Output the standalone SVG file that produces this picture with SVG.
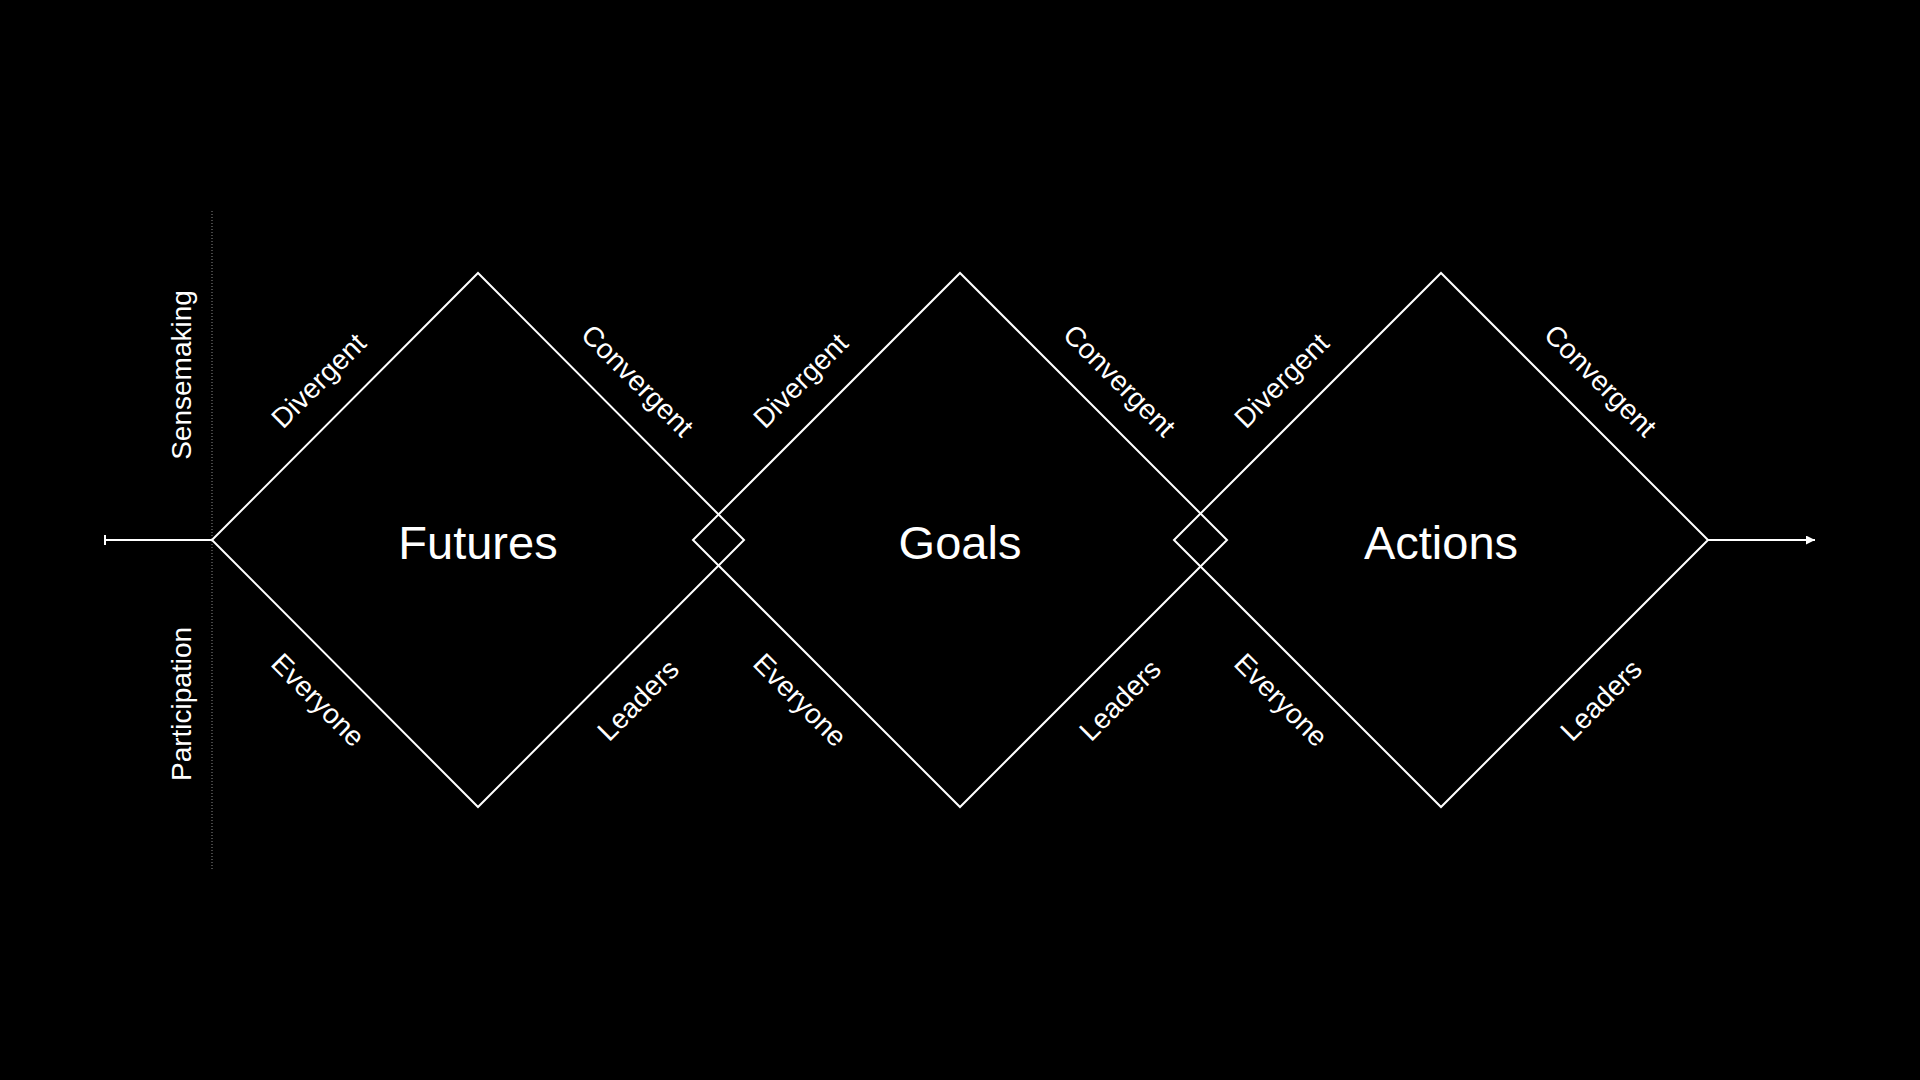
<svg xmlns="http://www.w3.org/2000/svg" width="1920" height="1080" viewBox="0 0 1920 1080">
<defs>
<style>
.bg{fill:#000}
.shape{fill:none;stroke:#fff;stroke-width:2;stroke-linejoin:miter}
.line{fill:none;stroke:#fff;stroke-width:2}
.axis{fill:none;stroke:#8a8a8a;stroke-width:1;stroke-dasharray:1 2}
.title{font-family:"Liberation Sans",Arial,Helvetica,sans-serif;font-size:47px;fill:#fff;text-anchor:middle}
.lbl{font-family:"Liberation Sans",Arial,Helvetica,sans-serif;font-size:28px;fill:#fff;text-anchor:middle}
</style>
<marker id="arrow" viewBox="0 0 10 10" refX="10" refY="5" markerWidth="10" markerHeight="9" markerUnits="userSpaceOnUse" orient="auto">
<path d="M0,0 L10,5 L0,10 Z" fill="#fff"/>
</marker>
</defs>
<rect class="bg" x="0" y="0" width="1920" height="1080"/>

<g id="axis">
<line class="axis" x1="212" y1="211" x2="212" y2="869"/>
<text class="lbl" transform="translate(191,375) rotate(-90)">Sensemaking</text>
<text class="lbl" transform="translate(191,704) rotate(-90)">Participation</text>
</g>

<g id="connectors">
<line class="line" x1="105" y1="540" x2="212" y2="540"/>
<line class="line" x1="105" y1="535" x2="105" y2="545"/>
<line class="line" x1="1708" y1="540" x2="1815" y2="540" marker-end="url(#arrow)"/>
</g>

<g id="futures">
<polygon class="shape" points="212,540 478,273 744,540 478,807"/>
<text class="title" x="478" y="559">Futures</text>
<text class="lbl" transform="translate(318.3,380.3) rotate(-45)" y="10">Divergent</text>
<text class="lbl" transform="translate(637.7,380.3) rotate(45)" y="10">Convergent</text>
<text class="lbl" transform="translate(318.3,699.7) rotate(45)" y="10">Everyone</text>
<text class="lbl" transform="translate(637.7,699.7) rotate(-45)" y="10">Leaders</text>
</g>

<g id="goals">
<polygon class="shape" points="693,540 960,273 1227,540 960,807"/>
<text class="title" x="960" y="559">Goals</text>
<text class="lbl" transform="translate(800.3,380.3) rotate(-45)" y="10">Divergent</text>
<text class="lbl" transform="translate(1119.7,380.3) rotate(45)" y="10">Convergent</text>
<text class="lbl" transform="translate(800.3,699.7) rotate(45)" y="10">Everyone</text>
<text class="lbl" transform="translate(1119.7,699.7) rotate(-45)" y="10">Leaders</text>
</g>

<g id="actions">
<polygon class="shape" points="1174,540 1441,273 1708,540 1441,807"/>
<text class="title" x="1441" y="559">Actions</text>
<text class="lbl" transform="translate(1281.3,380.3) rotate(-45)" y="10">Divergent</text>
<text class="lbl" transform="translate(1600.7,380.3) rotate(45)" y="10">Convergent</text>
<text class="lbl" transform="translate(1281.3,699.7) rotate(45)" y="10">Everyone</text>
<text class="lbl" transform="translate(1600.7,699.7) rotate(-45)" y="10">Leaders</text>
</g>
</svg>
